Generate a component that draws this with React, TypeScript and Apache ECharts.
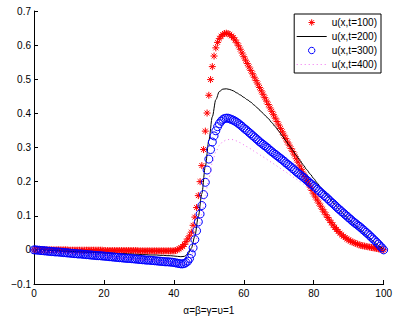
import React, { useEffect, useRef } from "react";
import * as echarts from "echarts";

const seriesNames = ["u(x,t=100)", "u(x,t=200)", "u(x,t=300)", "u(x,t=400)"];
const xAxisName = "α=β=γ=υ=1";

// sampling grids: u100/u300 every 0.5, u200/u400 every 1
const xFine = Array.from({ length: 201 }, (_, i) => i / 2);
const xCoarse = Array.from({ length: 101 }, (_, i) => i);

const u100 = [
  0, 0, 0, 0, 0, 0, 0, 0, 0, 0,
  0, 0, 0, 0, 0, 0, 0, 0, 0, 0,
  -0.001, -0.001, -0.001, -0.001, -0.001, -0.001, -0.001, -0.001, -0.001, -0.001,
  -0.001, -0.001, -0.001, -0.001, -0.001, -0.001, -0.001, -0.001, -0.001, -0.001,
  -0.002, -0.002, -0.002, -0.002, -0.002, -0.002, -0.002, -0.002, -0.002, -0.002,
  -0.002, -0.002, -0.002, -0.002, -0.002, -0.002, -0.002, -0.002, -0.002, -0.002,
  -0.003, -0.003, -0.003, -0.003, -0.003, -0.003, -0.003, -0.003, -0.003, -0.003,
  -0.003, -0.003, -0.003, -0.003, -0.003, -0.003, -0.003, -0.003, -0.003, -0.003,
  -0.003, -0.002, 0.0, 0.003, 0.006, 0.01, 0.016, 0.024, 0.032, 0.041,
  0.052, 0.072, 0.096, 0.124, 0.159, 0.2, 0.247, 0.294, 0.348, 0.401,
  0.453, 0.499, 0.537, 0.568, 0.592, 0.608, 0.619, 0.626, 0.631, 0.634,
  0.635, 0.634, 0.631, 0.627, 0.622, 0.615, 0.607, 0.598, 0.588, 0.577,
  0.566, 0.556, 0.546, 0.536, 0.526, 0.516, 0.506, 0.496, 0.486, 0.476,
  0.466, 0.456, 0.446, 0.436, 0.426, 0.416, 0.406, 0.396, 0.386, 0.376,
  0.366, 0.356, 0.346, 0.336, 0.326, 0.316, 0.307, 0.297, 0.288, 0.278,
  0.267, 0.257, 0.246, 0.236, 0.225, 0.215, 0.204, 0.194, 0.184, 0.174,
  0.164, 0.155, 0.146, 0.137, 0.128, 0.119, 0.111, 0.103, 0.095, 0.087,
  0.08, 0.073, 0.066, 0.06, 0.054, 0.049, 0.044, 0.04, 0.036, 0.032,
  0.029, 0.026, 0.023, 0.021, 0.019, 0.017, 0.015, 0.013, 0.012, 0.011,
  0.01, 0.009, 0.008, 0.007, 0.006, 0.005, 0.004, 0.003, 0.002, 0.001,
  0,
];

const u200 = [
  0.0, 0.0, -0.001, -0.001, -0.002, -0.002, -0.003, -0.003, -0.004, -0.004,
  -0.004, -0.005, -0.005, -0.006, -0.006, -0.007, -0.007, -0.007, -0.008, -0.008,
  -0.009, -0.009, -0.01, -0.01, -0.011, -0.011, -0.011, -0.012, -0.012, -0.013,
  -0.013, -0.014, -0.014, -0.015, -0.015, -0.015, -0.016, -0.016, -0.017, -0.017,
  -0.018, -0.019, -0.02, -0.019, -0.012, 0.005, 0.04, 0.098, 0.165, 0.245,
  0.32, 0.39, 0.44, 0.464, 0.471, 0.472, 0.47, 0.466, 0.46, 0.454,
  0.447, 0.44, 0.433, 0.424, 0.415, 0.405, 0.395, 0.385, 0.373, 0.361,
  0.348, 0.334, 0.32, 0.306, 0.292, 0.277, 0.263, 0.249, 0.235, 0.222,
  0.209, 0.196, 0.183, 0.17, 0.157, 0.145, 0.133, 0.122, 0.111, 0.1,
  0.09, 0.08, 0.071, 0.062, 0.053, 0.044, 0.035, 0.026, 0.017, 0.009,
  0,
];

const u300 = [
  0.0, 0.0, -0.001, -0.001, -0.002, -0.002, -0.003, -0.003, -0.004, -0.004,
  -0.005, -0.005, -0.006, -0.006, -0.006, -0.007, -0.007, -0.008, -0.008, -0.009,
  -0.009, -0.01, -0.01, -0.011, -0.011, -0.012, -0.012, -0.012, -0.013, -0.013,
  -0.014, -0.014, -0.015, -0.015, -0.016, -0.016, -0.017, -0.017, -0.017, -0.018,
  -0.018, -0.019, -0.019, -0.02, -0.02, -0.021, -0.021, -0.022, -0.022, -0.023,
  -0.023, -0.024, -0.024, -0.025, -0.025, -0.025, -0.026, -0.026, -0.027, -0.027,
  -0.028, -0.028, -0.029, -0.029, -0.03, -0.03, -0.03, -0.031, -0.031, -0.032,
  -0.032, -0.033, -0.033, -0.034, -0.034, -0.035, -0.035, -0.035, -0.036, -0.036,
  -0.037, -0.038, -0.039, -0.04, -0.041, -0.041, -0.04, -0.037, -0.033, -0.025,
  -0.012, 0.006, 0.03, 0.056, 0.082, 0.105, 0.13, 0.162, 0.198, 0.234,
  0.266, 0.294, 0.316, 0.334, 0.349, 0.361, 0.37, 0.377, 0.382, 0.385,
  0.386, 0.386, 0.384, 0.382, 0.38, 0.377, 0.374, 0.37, 0.366, 0.362,
  0.357, 0.353, 0.349, 0.344, 0.34, 0.335, 0.331, 0.326, 0.322, 0.317,
  0.313, 0.309, 0.305, 0.301, 0.297, 0.292, 0.288, 0.284, 0.28, 0.276,
  0.272, 0.268, 0.264, 0.26, 0.255, 0.251, 0.247, 0.243, 0.238, 0.234,
  0.229, 0.225, 0.221, 0.217, 0.213, 0.209, 0.204, 0.2, 0.195, 0.191,
  0.186, 0.182, 0.177, 0.173, 0.168, 0.164, 0.159, 0.155, 0.15, 0.145,
  0.14, 0.136, 0.131, 0.126, 0.121, 0.117, 0.112, 0.108, 0.103, 0.099,
  0.094, 0.09, 0.085, 0.081, 0.077, 0.073, 0.069, 0.065, 0.06, 0.056,
  0.051, 0.047, 0.042, 0.037, 0.032, 0.027, 0.022, 0.017, 0.011, 0.006,
  0,
];

const u400 = [
  0.0, -0.001, -0.002, -0.003, -0.004, -0.005, -0.006, -0.007, -0.008, -0.009,
  -0.01, -0.011, -0.012, -0.012, -0.013, -0.014, -0.015, -0.016, -0.017, -0.018,
  -0.019, -0.02, -0.021, -0.022, -0.023, -0.024, -0.025, -0.026, -0.027, -0.028,
  -0.029, -0.03, -0.031, -0.031, -0.032, -0.033, -0.034, -0.035, -0.036, -0.037,
  -0.038, -0.04, -0.041, -0.04, -0.035, -0.02, 0.012, 0.055, 0.105, 0.16,
  0.21, 0.255, 0.287, 0.306, 0.317, 0.322, 0.324, 0.323, 0.319, 0.314,
  0.308, 0.302, 0.296, 0.289, 0.283, 0.276, 0.27, 0.263, 0.256, 0.249,
  0.242, 0.235, 0.228, 0.221, 0.214, 0.207, 0.2, 0.193, 0.186, 0.179,
  0.172, 0.165, 0.158, 0.151, 0.144, 0.137, 0.13, 0.122, 0.114, 0.106,
  0.098, 0.09, 0.082, 0.073, 0.064, 0.055, 0.046, 0.036, 0.025, 0.013,
  0,
];

const FONT = "'Liberation Sans', Arial, Helvetica, sans-serif";
const STAR = "path://M5,0L5,10M0,5L10,5M1.5,1.5L8.5,8.5M1.5,8.5L8.5,1.5";

function pairs(xs: number[], ys: number[]) {
  return ys.map((y, i) => [xs[i], y]);
}

export default function App() {
  const ref = useRef<HTMLDivElement>(null);
  useEffect(() => {
    if (!ref.current) return;
    const chart = echarts.init(ref.current, null, { renderer: "svg" });
    chart.setOption({
      animation: false,
      backgroundColor: "#fff",
      grid: { left: 34, right: 9, top: 11, bottom: 34, containLabel: false },
      xAxis: {
        type: "value",
        min: 0,
        max: 100,
        interval: 20,
        name: xAxisName,
        nameLocation: "middle",
        nameGap: 21,
        nameTextStyle: { color: "#000", fontSize: 10, fontFamily: FONT },
        axisLine: { show: true, onZero: false, lineStyle: { color: "#000", width: 1 } },
        axisTick: { show: true, inside: true, length: 4, lineStyle: { color: "#000" } },
        axisLabel: { color: "#000", fontSize: 10, fontFamily: FONT, margin: 4 },
        splitLine: { show: false },
      },
      yAxis: {
        type: "value",
        min: -0.1,
        max: 0.7,
        interval: 0.1,
        axisLine: { show: true, onZero: false, lineStyle: { color: "#000", width: 1 } },
        axisTick: { show: true, inside: true, length: 4, lineStyle: { color: "#000" } },
        axisLabel: {
          color: "#000",
          fontSize: 10,
          fontFamily: FONT,
          margin: 3,
          formatter: (v: number) => {
            if (Math.abs(v) < 1e-9) return "0";
            const s = Math.abs(v).toFixed(1);
            return v < 0 ? "\u2212" + s : s;
          },
        },
        splitLine: { show: false },
      },
      legend: {
        orient: "vertical",
        right: 14,
        top: 14,
        padding: [3, 4, 3, 2],
        itemGap: 3,
        itemWidth: 30,
        itemHeight: 8,
        backgroundColor: "#fff",
        borderColor: "#000",
        borderWidth: 1,
        borderRadius: 0,
        textStyle: { color: "#000", fontSize: 10, fontFamily: FONT, lineHeight: 11 },
        data: [
          { name: seriesNames[0], itemStyle: { color: "rgba(0,0,0,0)", borderColor: "#ff0000", borderWidth: 1 } },
          { name: seriesNames[1], itemStyle: { opacity: 0 }, lineStyle: { width: 1, color: "#000" } },
          { name: seriesNames[2], itemStyle: { color: "rgba(0,0,0,0)", borderColor: "#0000ff", borderWidth: 1 } },
          { name: seriesNames[3], itemStyle: { opacity: 0 }, lineStyle: { width: 1, color: "#f070f0", type: [1, 3] } },
        ],
      },
      series: [
        {
          name: seriesNames[0],
          type: "line",
          data: pairs(xFine, u100),
          symbol: STAR,
          symbolSize: 7,
          showAllSymbol: true,
          itemStyle: { color: "rgba(0,0,0,0)", borderColor: "#ff0000", borderWidth: 1 },
          lineStyle: { width: 0, opacity: 0, color: "#ff0000" },
          z: 2,
        },
        {
          name: seriesNames[1],
          type: "line",
          data: pairs(xCoarse, u200),
          symbol: "none",
          smooth: 0.3,
          smoothMonotone: "x",
          lineStyle: { width: 1, color: "#000" },
          itemStyle: { color: "#000" },
          z: 3,
        },
        {
          name: seriesNames[2],
          type: "line",
          data: pairs(xFine, u300),
          symbol: "circle",
          symbolSize: 8,
          showAllSymbol: true,
          itemStyle: { color: "rgba(0,0,0,0)", borderColor: "#0000ff", borderWidth: 1 },
          lineStyle: { width: 0, opacity: 0, color: "#0000ff" },
          z: 4,
        },
        {
          name: seriesNames[3],
          type: "line",
          data: pairs(xCoarse, u400),
          symbol: "none",
          smooth: 0.3,
          smoothMonotone: "x",
          lineStyle: { width: 1, color: "#f070f0", type: [1, 3] },
          itemStyle: { color: "#f070f0" },
          z: 5,
        },
      ],
    });
    return () => chart.dispose();
  }, []);
  return <div ref={ref} style={{ width: 395, height: 320, position: "absolute", left: 0, top: 0 }} />;
}
